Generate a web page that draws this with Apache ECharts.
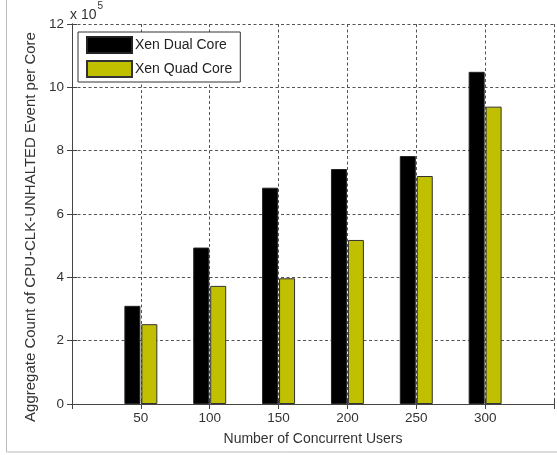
<!DOCTYPE html>
<html>
<head>
<meta charset="utf-8">
<script src="https://cdn.jsdelivr.net/npm/echarts@6/dist/echarts.min.js"></script>
<style>html,body{margin:0;padding:0;background:#fff;}#c{width:557px;height:455px;}</style>
</head>
<body>
<div id="c"></div>
<script>
// Data (values in units of 10^5)
const users = [50, 100, 150, 200, 250, 300];
const dualCore = [3.10, 4.94, 6.83, 7.42, 7.83, 10.49];
const quadCore = [2.52, 3.73, 3.97, 5.18, 7.20, 9.39];
const seriesNames = ['Xen Dual Core', 'Xen Quad Core'];
const yTicks = [0, 2, 4, 6, 8, 10, 12];

const font = 'Liberation Sans, Arial, sans-serif';
const axisColor = '#444';
const chart = echarts.init(document.getElementById('c'), null, {renderer: 'canvas'});

const pairs = (vals) => users.map((u, i) => [u, vals[i]]);

chart.setOption({
  animation: false,
  backgroundColor: '#fff',
  grid: {left: 72, right: 3, top: 24, bottom: 51},
  legend: {
    orient: 'vertical', left: 78, top: 32,
    data: seriesNames,
    icon: 'rect',
    itemWidth: 45, itemHeight: 16, itemGap: 6,
    padding: [4, 8, 4, 8],
    backgroundColor: '#fff', borderColor: '#333', borderWidth: 1,
    textStyle: {fontFamily: font, fontSize: 14, color: '#222', padding: [0, 0, 0, -2], lineHeight: 16}
  },
  xAxis: [{
    type: 'value', min: 0, max: 350, interval: 50,
    name: 'Number of Concurrent Users', nameLocation: 'middle', nameGap: 28,
    nameTextStyle: {fontFamily: font, fontSize: 14, color: '#333'},
    axisLine: {show: true, onZero: false, lineStyle: {color: axisColor, width: 1}},
    axisTick: {show: true, inside: true, length: 5, lineStyle: {color: axisColor}},
    axisLabel: {fontFamily: font, fontSize: 13.5, color: '#333', margin: 7,
      formatter: (v) => users.indexOf(v) >= 0 ? String(v) : ''},
    splitLine: {show: true, lineStyle: {color: '#555', type: [3, 2.5], width: 1}}
  }, {
    type: 'value', min: 0, max: 350, interval: 50, position: 'top',
    axisLine: {show: true, lineStyle: {color: axisColor, width: 1}},
    axisTick: {show: true, inside: true, length: 5, lineStyle: {color: axisColor}},
    axisLabel: {show: false}, splitLine: {show: false}
  }],
  yAxis: [{
    type: 'value', min: 0, max: 12, interval: 2,
    name: 'Aggregate Count of CPU-CLK-UNHALTED Event per Core',
    nameLocation: 'middle', nameGap: 32, nameRotate: 90,
    nameTextStyle: {fontFamily: font, fontSize: 15, color: '#333', padding: [0, 26, 0, 0]},
    axisLine: {show: true, lineStyle: {color: axisColor, width: 1}},
    axisTick: {show: true, inside: true, length: 5, lineStyle: {color: axisColor}},
    axisLabel: {fontFamily: font, fontSize: 13.5, color: '#333', margin: 8,
      formatter: (v) => yTicks.indexOf(v) >= 0 ? String(v) : ''},
    splitLine: {show: true, lineStyle: {color: '#555', type: [3, 2.5], width: 1}}
  }, {
    type: 'value', min: 0, max: 12, interval: 2, position: 'right',
    axisLine: {show: true, lineStyle: {color: axisColor, width: 1}},
    axisTick: {show: true, inside: true, length: 5, lineStyle: {color: axisColor}},
    axisLabel: {show: false}, splitLine: {show: false}
  }],
  series: [{
    name: seriesNames[0], type: 'bar', data: pairs(dualCore),
    barWidth: 16, barGap: '6%',
    itemStyle: {color: '#000', borderColor: '#222', borderWidth: 1}
  }, {
    name: seriesNames[1], type: 'bar', data: pairs(quadCore),
    barWidth: 16, barGap: '6%',
    itemStyle: {color: '#c0c000', borderColor: '#333', borderWidth: 1}
  }],
  graphic: [{
    type: 'rect', silent: true, z: -10,
    shape: {x: 6.5, y: -5, width: 600, height: 457},
    style: {fill: 'none', stroke: '#bbb', lineWidth: 1}
  }, {
    type: 'text', left: 70, top: 1,
    style: {
      text: '{a|x 10}{b|5}',
      rich: {
        a: {fontFamily: font, fontSize: 14, fill: '#333', padding: [7, 0, 0, 0]},
        b: {fontFamily: font, fontSize: 10, fill: '#333', verticalAlign: 'top', padding: [0, 0, 8, 1]}
      }
    }
  }]
});
</script>
</body>
</html>
